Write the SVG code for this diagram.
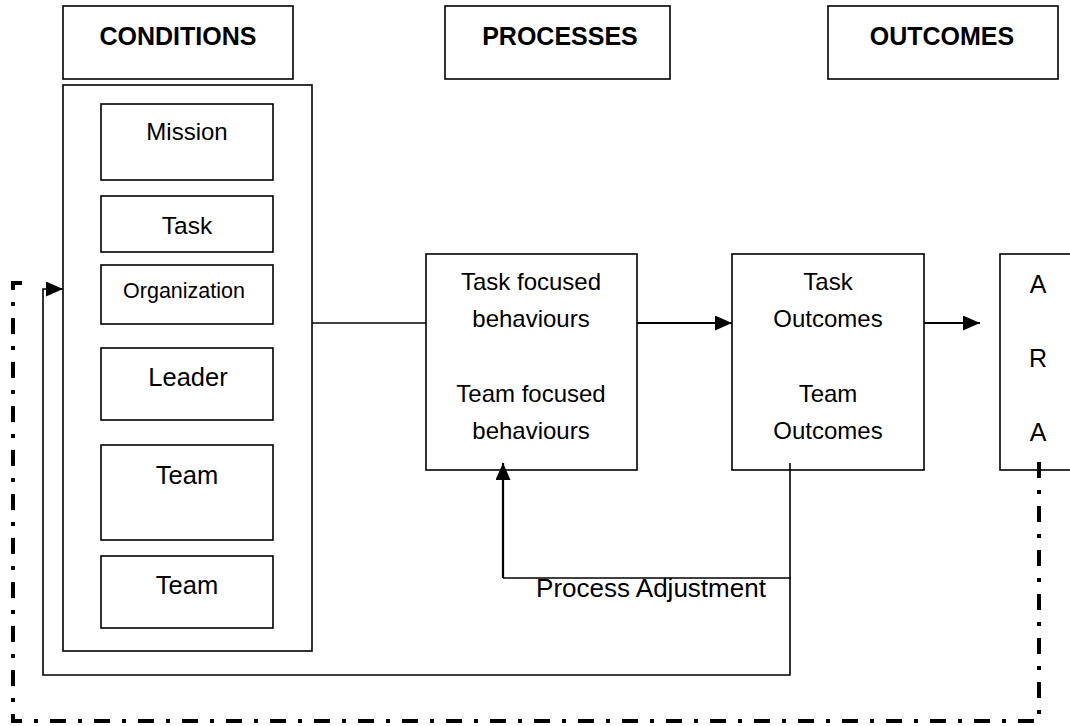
<svg xmlns="http://www.w3.org/2000/svg" width="1070" height="726" viewBox="0 0 1070 726">
<style>
.box{fill:#fff;stroke:#000;stroke-width:1.6}
.t{font-family:"Liberation Sans",Arial,sans-serif;fill:#000;text-anchor:middle}
.h{font-weight:bold;font-size:25px}
.ln{fill:none;stroke:#000;stroke-width:1.6}
.ar{fill:none;stroke:#000;stroke-width:2.2}
.dd{fill:none;stroke:#000;stroke-width:4;stroke-dasharray:16 12 4 12}
</style>
<defs>
<marker id="ah" markerUnits="userSpaceOnUse" markerWidth="17" markerHeight="15" refX="17" refY="7.5" orient="auto">
<path d="M0,0 L17,7.5 L0,15 z" fill="#000"/>
</marker>
</defs>
<rect width="1070" height="726" fill="#fff"/>
<g id="hdr-conditions"><rect class="box" x="63" y="6" width="230" height="73"/><text class="t h" x="178" y="45">CONDITIONS</text></g>
<g id="hdr-processes"><rect class="box" x="445" y="6" width="225" height="73"/><text class="t h" x="560" y="45">PROCESSES</text></g>
<g id="hdr-outcomes"><rect class="box" x="828" y="6" width="230" height="73"/><text class="t h" x="942" y="45">OUTCOMES</text></g>
<g id="conditions"><rect class="box" x="63" y="85" width="249" height="566"/></g>
<g id="mission"><rect class="box" x="101" y="104" width="172" height="76"/><text class="t" x="187" y="140" font-size="24">Mission</text></g>
<g id="task"><rect class="box" x="101" y="196" width="172" height="56"/><text class="t" x="187" y="234" font-size="24.5">Task</text></g>
<g id="organization"><rect class="box" x="101" y="265" width="172" height="59"/><text class="t" x="184" y="298" font-size="21.5">Organization</text></g>
<g id="leader"><rect class="box" x="101" y="348" width="172" height="72"/><text class="t" x="188" y="386" font-size="25.5">Leader</text></g>
<g id="team1"><rect class="box" x="101" y="445" width="172" height="95"/><text class="t" x="187" y="484" font-size="25.5">Team</text></g>
<g id="team2"><rect class="box" x="101" y="556" width="172" height="72"/><text class="t" x="187" y="594" font-size="25.5">Team</text></g>
<g id="processes"><rect class="box" x="426" y="254" width="211" height="216"/>
<text class="t" x="531" y="290" font-size="24">Task focused</text>
<text class="t" x="531" y="327" font-size="24">behaviours</text>
<text class="t" x="531" y="402" font-size="24">Team focused</text>
<text class="t" x="531" y="439" font-size="24">behaviours</text></g>
<g id="outcomes"><rect class="box" x="732" y="254" width="192" height="216"/>
<text class="t" x="828" y="290" font-size="24">Task</text>
<text class="t" x="828" y="327" font-size="24">Outcomes</text>
<text class="t" x="828" y="402" font-size="24">Team</text>
<text class="t" x="828" y="439" font-size="24">Outcomes</text></g>
<g id="ara"><rect class="box" x="1000" y="254" width="90" height="216"/>
<text class="t" x="1038" y="293" font-size="25">A</text>
<text class="t" x="1038" y="367" font-size="25">R</text>
<text class="t" x="1038" y="441" font-size="25">A</text></g>
<g id="connectors">
<line class="ln" x1="312" y1="323" x2="426" y2="323"/>
<line class="ar" x1="637" y1="323" x2="732" y2="323" marker-end="url(#ah)"/>
<line class="ar" x1="924" y1="323" x2="980" y2="323" marker-end="url(#ah)"/>
<polyline class="ln" points="790,463 790,578 503,578"/>
<line class="ar" x1="503" y1="578" x2="503" y2="463" marker-end="url(#ah)"/>
<polyline class="ln" points="790,578 790,675 43,675 43,289 63,289" marker-end="url(#ah)"/>
<polyline class="dd" points="1039,462 1039,721 13,721 13,283 28,283"/>
<text class="t" x="651" y="597" font-size="26">Process Adjustment</text>
</g>
</svg>
